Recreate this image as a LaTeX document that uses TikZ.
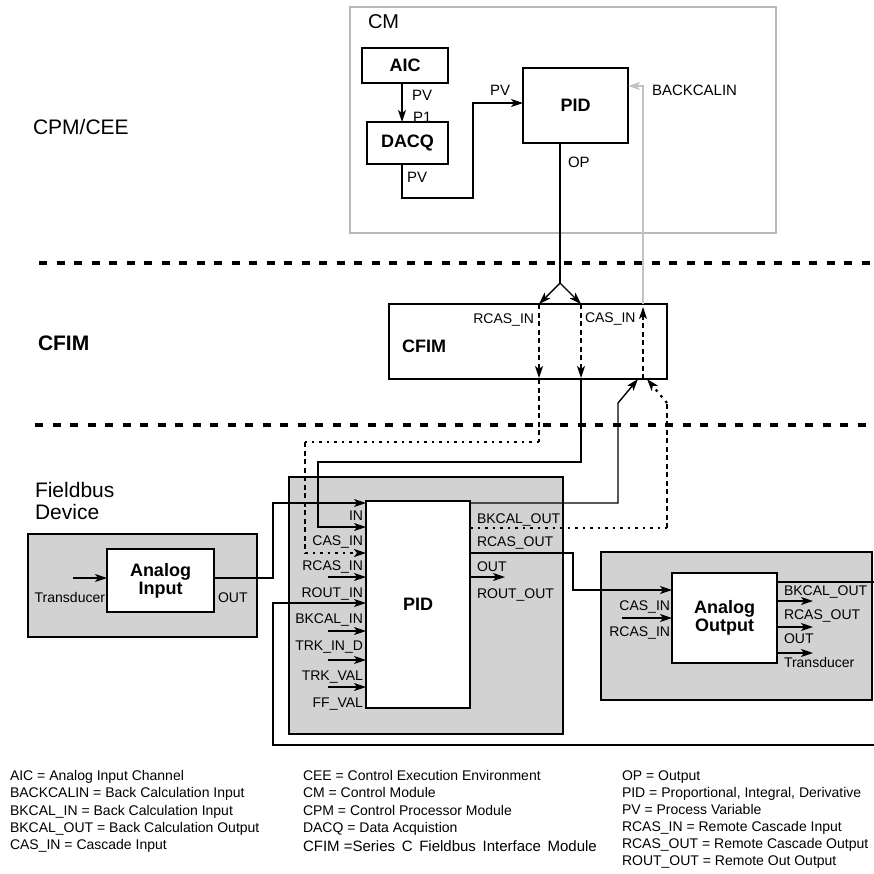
\documentclass[tikz,border=0pt]{standalone}
\usepackage{fontspec}
\setmainfont{Liberation Sans}
\usetikzlibrary{arrows.meta,calc}
\definecolor{fbgray}{RGB}{210,210,210}
\definecolor{cmgray}{RGB}{185,185,185}
\definecolor{bkgray}{RGB}{195,195,195}
\newcommand\setfs[1]{\fontsize{#1}{#1}\selectfont}
\begin{document}
\begin{tikzpicture}[x=1pt,y=-1pt,
  every node/.style={inner sep=0pt, outer sep=0pt},
  blk/.style={draw, line width=1.3pt, fill=white, anchor=north west, font=\bfseries\setfs{18}, align=center},
  gbox/.style={draw, line width=1.3pt, fill=fbgray, anchor=north west},
  lab/.style={font=\setfs{14}},
  ttl/.style={font=\setfs{21}, anchor=base west},
  leg/.style={font=\setfs{14}, anchor=base west},
  con/.style={line width=1.4pt},
  tip/.style={-{Stealth[length=12pt,width=8pt,inset=3pt]}},
  arr/.style={con, tip},
  arrg/.style={line width=1.6pt, draw=bkgray, -{Stealth[length=12pt,width=8pt,inset=3pt,fill=bkgray]}},
  dsh/.style={line width=1.2pt, dash pattern=on 5pt off 3.5pt},
  dot/.style={line width=2.2pt, dash pattern=on 2.5pt off 5pt},
  sep/.style={line width=4pt, dash pattern=on 8pt off 9.5pt},
]
\useasboundingbox (0,0) rectangle (874,873);

% layer separators
\draw[sep] (39,263) -- (874,263);
\draw[sep] (35,425) -- (874,425);

% layer titles
\node[ttl] (tcpm) at (33,134) {CPM/CEE};
\node[ttl, font=\bfseries\setfs{21}] (tcfim) at (38,350) {CFIM};
\node[ttl] (tfb1) at (35,497) {Fieldbus};
\node[ttl] (tfb2) at (35,519) {Device};

% CM
\node[draw=cmgray, line width=1.2pt, anchor=north west, minimum width=426pt, minimum height=226pt] (cm) at (350,7) {};
\node[font=\setfs{20}, anchor=base west] (cmlab) at (368,28) {CM};
\node[blk, minimum width=86pt, minimum height=35pt] (aic) at (362,48) {AIC};
\node[blk, minimum width=81pt, minimum height=42pt] (dacq) at (367,122) {DACQ};
\node[blk, minimum width=105pt, minimum height=75pt] (pidcm) at (523,68) {PID};

% CFIM
\node[draw, line width=1.3pt, anchor=north west, minimum width=278pt, minimum height=75pt] (cfim) at (389,304) {};
\node[font=\bfseries\setfs{18}, anchor=base west] (cfimlab) at (402,352) {CFIM};

% Fieldbus devices
\node[gbox, minimum width=229pt, minimum height=103pt] (aibg) at (28,534) {};
\node[blk, minimum width=107pt, minimum height=63pt] (ai) at (107,549) {Analog\\Input};
\node[gbox, minimum width=274pt, minimum height=257pt] (pidbg) at (289,477) {};
\node[blk, minimum width=104pt, minimum height=207pt] (fbpid) at (366,501) {PID};
\node[gbox, minimum width=271pt, minimum height=148pt] (aobg) at (601,552) {};
\node[blk, minimum width=105pt, minimum height=90pt] (ao) at (672,573) {Analog\\Output};

% named points
\coordinate (fork) at (560,283);
\coordinate (r1) at (539,442);
\coordinate (r2) at (305,442);
\coordinate (r3) at (305,553);
\coordinate (d1) at (667,528);
\coordinate (d2) at (667,403);
\coordinate (pidout) at (505,577);
\coordinate (loopR) at (874,745);
\coordinate (aitr) at (73,578);
\coordinate (aoin) at (622,618);
\coordinate (aobk) at (874,582);

% CM connectors
\draw[arr] ([xshift=-3pt]aic.south) -- ([xshift=-3pt]aic.south |- dacq.north);
\draw[arr] ([xshift=-5.5pt]dacq.south) |- (473,198) |- ([yshift=2.5pt]pidcm.west);
\draw[con] ([xshift=-15.5pt]pidcm.south) -- (fork);
\draw[arr] (fork) -- (cfim.north -| 539,0);
\draw[arr] (fork) -- (cfim.north -| 581,0);
\draw[arrg] (cfim.north -| 643,0) |- (pidcm.east |- 0,86);

% inside CFIM
\draw[dsh, tip] (cfim.north -| 539,0) -- ([yshift=1pt]cfim.south -| 539,0);
\draw[dsh, tip] (cfim.north -| 581,0) -- ([yshift=1pt]cfim.south -| 581,0);
\draw[dsh, tip] (cfim.south -| 643,0) -- ([yshift=-3pt]cfim.north -| 643,0);

% CFIM RCAS_IN -> PID RCAS_IN
\draw[dsh] (cfim.south -| 539,0) -- (r1);
\draw[dot] (r1) -- (r2);
\draw[dsh] (r2) -- (r3);
\draw[dot, tip] (r3) -- (fbpid.west |- r3);

% CFIM CAS_IN -> PID CAS_IN
\draw[arr] (cfim.south -| 581,0) |- (318,462) |- (fbpid.west |- 0,527);

% AI OUT -> PID IN
\draw[arr] ([yshift=2.5pt]ai.east) -| (273,503) -- (fbpid.west |- 0,503);
\draw[arr] (aitr) -- ([yshift=2.5pt]ai.west);

% PID BKCAL_OUT -> CFIM
\draw[arr] (fbpid.east |- 0,503) -| (618,403) -- (cfim.south -| 638,0);
\draw[dot] (fbpid.east |- d1) -- (d1);
\draw[dsh] (d1) -- (d2);
\draw[dot, tip] (d2) -- (cfim.south -| 647,0);

% PID RCAS_OUT -> AO CAS_IN
\draw[arr] (fbpid.east |- 0,553) -| (573,590) -- (ao.west |- 0,590);
\draw[arr] (fbpid.east |- pidout) -- (pidout);

% loop back to BKCAL_IN
\draw[arr] (loopR) -| (273,603) -- (fbpid.west |- 0,603);

% free inputs of PID
\foreach \yy in {577,631,660,687} { \draw[arr] (328,\yy) -- (fbpid.west |- 0,\yy); }

% AO connectors
\draw[arr] (aoin) -- (ao.west |- aoin);
\draw[con] (ao.east |- aobk) -- (aobk);
\foreach \yy in {601,627,653} { \draw[arr] (ao.east |- 0,\yy) -- (813,\yy); }

% CM labels
\node[lab, font=\setfs{15}, anchor=base west] at (412,100) {PV};
\node[lab, font=\setfs{15}, anchor=base west] at (413,122) {P1};
\node[lab, font=\setfs{15}, anchor=base west] at (407,182) {PV};
\node[lab, font=\setfs{15}, anchor=base west] at (490,95) {PV};
\node[lab, font=\setfs{15}, anchor=base west] at (568,167) {OP};
\node[lab, font=\setfs{15}, anchor=base west] at (652,95) {BACKCALIN};

% CFIM labels
\node[lab, anchor=base east] at (534,323) {RCAS\_IN};
\node[lab, anchor=base west] at (585,322) {CAS\_IN};

% AI labels
\node[lab, anchor=base east] at (105,602) {Transducer};
\node[lab, anchor=base west] at (218,602) {OUT};

% PID labels
\node[lab, anchor=base east] at (363,520) {IN};
\node[lab, anchor=base east] at (363,545) {CAS\_IN};
\node[lab, anchor=base east] at (363,570) {RCAS\_IN};
\node[lab, anchor=base east] at (363,597) {ROUT\_IN};
\node[lab, anchor=base east] at (363,623) {BKCAL\_IN};
\node[lab, anchor=base east] at (363,650) {TRK\_IN\_D};
\node[lab, anchor=base east] at (363,680) {TRK\_VAL};
\node[lab, anchor=base east] at (363,707) {FF\_VAL};
\node[lab, anchor=base west] at (477,523) {BKCAL\_OUT};
\node[lab, anchor=base west] at (477,546) {RCAS\_OUT};
\node[lab, anchor=base west] at (477,571) {OUT};
\node[lab, anchor=base west] at (477,598) {ROUT\_OUT};

% AO labels
\node[lab, anchor=base east] at (670,610) {CAS\_IN};
\node[lab, anchor=base east] at (670,636) {RCAS\_IN};
\node[lab, anchor=base west] at (784,595) {BKCAL\_OUT};
\node[lab, anchor=base west] at (784,619) {RCAS\_OUT};
\node[lab, anchor=base west] at (784,643) {OUT};
\node[lab, anchor=base west] at (784,667) {Transducer};

% legend
\node[leg] at (10,780) {AIC = Analog Input Channel};
\node[leg] at (10,797) {BACKCALIN = Back Calculation Input};
\node[leg] at (10,815) {BKCAL\_IN = Back Calculation Input};
\node[leg] at (10,832) {BKCAL\_OUT = Back Calculation Output};
\node[leg] at (10,849) {CAS\_IN = Cascade Input};
\node[leg] at (303,780) {CEE = Control Execution Environment};
\node[leg] at (303,797) {CM = Control Module};
\node[leg] at (303,815) {CPM = Control Processor Module};
\node[leg] at (303,832) {DACQ = Data Acquistion};
\node[leg, font=\setfs{15}] at (303,851) {CFIM =Series\, C\, Fieldbus\, Interface\, Module};
\node[leg] at (622,780) {OP = Output};
\node[leg] at (622,797) {PID = Proportional, Integral, Derivative};
\node[leg] at (622,814) {PV = Process Variable};
\node[leg] at (622,831) {RCAS\_IN = Remote Cascade Input};
\node[leg] at (622,848) {RCAS\_OUT = Remote Cascade Output};
\node[leg] at (622,865) {ROUT\_OUT = Remote Out Output};
\end{tikzpicture}
\end{document}
